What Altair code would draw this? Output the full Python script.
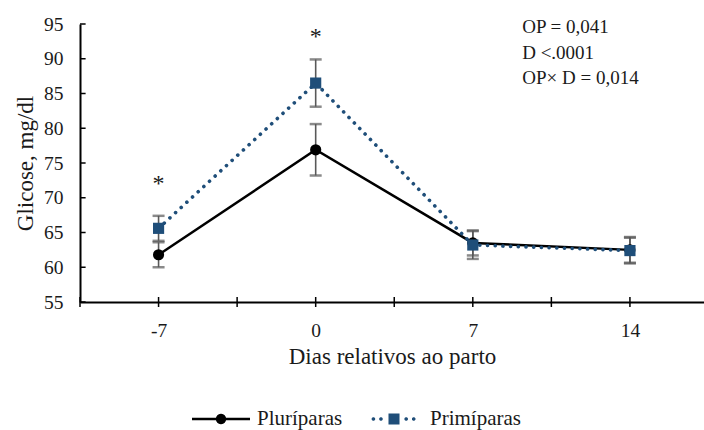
import math
import altair as alt
import pandas as pd

# ---------------- data ----------------
days = [-7, 0, 7, 14]
series = ["Pluríparas", "Primíparas"]
pluri_mean = [61.8, 76.9, 63.5, 62.5]
pluri_se = [1.8, 3.7, 1.8, 1.85]
prim_mean = [65.6, 86.5, 63.2, 62.4]
prim_se = [1.8, 3.4, 2.0, 1.85]
sig_days = [-7, 0]
sig_y = [72.0, 93.2]
y_tick_values = [55, 60, 65, 70, 75, 80, 85, 90, 95]
x_tick_values = [-7, 0, 7, 14]
x_tick_marks = [-10.5, -7, -3.5, 0, 3.5, 7, 10.5, 14]
stats_text = ["OP = 0,041", "D <.0001", "OP× D = 0,014"]

colors = ["#000000", "#1F4E79"]
err_color = "#595959"
text_color = "#1a1a1a"
FONT = "'Liberation Serif', 'Times New Roman', Times, serif"

rows = []
for s, means, ses in [(series[0], pluri_mean, pluri_se), (series[1], prim_mean, prim_se)]:
    for d, m, e in zip(days, means, ses):
        rows.append({"dia": d, "serie": s, "media": m, "lo": m - e, "hi": m + e})
df = pd.DataFrame(rows)

caps = pd.concat([
    df[["dia", "serie", "lo"]].rename(columns={"lo": "v"}),
    df[["dia", "serie", "hi"]].rename(columns={"hi": "v"}),
])

xs = alt.Scale(domain=[-10.5, 17.3], nice=False, zero=False)
ys = alt.Scale(domain=[55, 95], nice=False, zero=False)

X_AXIS = alt.Axis(values=x_tick_values, ticks=False, grid=False,
                  labelExpr="datum.value < 0 ? '-' + abs(datum.value) : '' + datum.value",
                  labelOverlap=False,
                  labelFont=FONT, labelFontSize=19.5, labelColor=text_color,
                  labelPadding=19, domainColor="#000000", domainWidth=2,
                  titleFont=FONT, titleFontSize=23, titleFontWeight="normal",
                  titleColor=text_color, titlePadding=6, labelFlush=False)
Y_AXIS = alt.Axis(values=y_tick_values, ticks=False, grid=False, labelOverlap=False,
                  labelFont=FONT, labelFontSize=19.5, labelColor=text_color,
                  labelPadding=17, domainColor="#000000", domainWidth=2,
                  titleFont=FONT, titleFontSize=23, titleFontWeight="normal",
                  titleColor=text_color, titlePadding=6, labelFlush=False)

def X(field):
    return alt.X(field, scale=xs, axis=X_AXIS, title="Dias relativos ao parto")

def Y(field):
    return alt.Y(field, scale=ys, axis=Y_AXIS, title="Glicose, mg/dl")

base = alt.Chart(df)

# inward y ticks and crossing x ticks
yt = alt.Chart(pd.DataFrame({"v": y_tick_values})).mark_rule(color="#000000", strokeWidth=1.5).encode(
    x=alt.datum(-10.5, scale=xs, axis=X_AXIS, title="Dias relativos ao parto"), x2=alt.datum(-10.25),
    y=Y("v:Q"))
xt = alt.Chart(pd.DataFrame({"t": x_tick_marks})).mark_rule(color="#000000", strokeWidth=1.5).encode(
    x=X("t:Q"), y=alt.datum(54.28, scale=ys, axis=Y_AXIS, title="Glicose, mg/dl"), y2=alt.datum(55.72))

err = base.mark_rule(color=err_color, strokeWidth=1.6).encode(
    x=X("dia:Q"), y=Y("lo:Q"), y2="hi:Q")
capm = alt.Chart(caps).mark_tick(color=err_color, orient="horizontal", size=12, thickness=2.5).encode(
    x=X("dia:Q"), y=Y("v:Q"))

def sel(s):
    return base.transform_filter(alt.datum.serie == s)

pl_line = sel(series[0]).mark_line(color=colors[0], strokeWidth=2.5).encode(
    x=X("dia:Q"), y=Y("media:Q"))
pl_pts = sel(series[0]).mark_point(shape="circle", filled=True, size=125, color=colors[0], opacity=1).encode(
    x=X("dia:Q"), y=Y("media:Q"))
pr_line = sel(series[1]).mark_line(color=colors[1], strokeWidth=3.6, strokeDash=[0.1, 7.6], strokeCap="round").encode(
    x=X("dia:Q"), y=Y("media:Q"))
pr_pts = sel(series[1]).mark_point(shape="square", filled=True, size=125, color=colors[1], opacity=1).encode(
    x=X("dia:Q"), y=Y("media:Q"))

sig = alt.Chart(pd.DataFrame({"d": sig_days, "y": sig_y})).mark_text(
    text="*", font=FONT, fontSize=24, color=text_color, baseline="middle").encode(
    x=X("d:Q"), y=Y("y:Q"))

stats = alt.Chart(pd.DataFrame({"a": [0]})).mark_text(
    text=stats_text, font=FONT, fontSize=19, color=text_color, align="left",
    baseline="top", lineHeight=25.5).encode(
    x=alt.datum(9.2, scale=xs, axis=X_AXIS, title="Dias relativos ao parto"),
    y=alt.datum(95.8, scale=ys, axis=Y_AXIS, title="Glicose, mg/dl"))

# legend symbols: line + marker drawn as custom paths in the [-1, 1] box
def circle(cx, cy, r, n=24):
    pts = [(cx + r * math.cos(2 * math.pi * i / n), cy + r * math.sin(2 * math.pi * i / n)) for i in range(n)]
    return "M" + " L".join(f"{x:.4f},{y:.4f}" for x, y in pts) + " Z"

def rect(x0, y0, x1, y1):
    return f"M{x0},{y0} L{x1},{y0} L{x1},{y1} L{x0},{y1} Z"

sym_pluri = rect(-1, -0.045, 1, 0.045) + " " + circle(0, 0, 0.18)
sym_prim = " ".join([circle(px, 0, 0.062) for px in (-0.71, -0.45, 0.42, 0.68)]) + " " + rect(-0.19, -0.19, 0.19, 0.19)

leg_props = dict(orient="none", legendX=112, legendY=366, direction="horizontal", title=None,
                 symbolSize=3364, symbolStrokeWidth=0, symbolOpacity=1,
                 labelFont=FONT, labelFontSize=21, labelColor=text_color,
                 labelOffset=7, columnPadding=22, padding=0)
leg = base.mark_point(filled=True, opacity=0).encode(
    x=X("dia:Q"), y=Y("media:Q"),
    color=alt.Color("serie:N", scale=alt.Scale(domain=series, range=colors), legend=alt.Legend(**leg_props)),
    shape=alt.Shape("serie:N", scale=alt.Scale(domain=series, range=[sym_pluri, sym_prim]), legend=alt.Legend(**leg_props)),
)

chart = alt.layer(yt, xt, err, capm, pl_line, pr_line, pl_pts, pr_pts, sig, stats, leg).properties(
    width=624, height=278,
    padding={"left": 80, "top": 24, "right": 0, "bottom": 128},
    autosize=alt.AutoSizeParams(type="none"),
    background="white",
).configure_view(stroke=None).configure_axis(labelOverlap=False)

chart.save("out.html", embed_options={"renderer": "svg", "actions": False})
